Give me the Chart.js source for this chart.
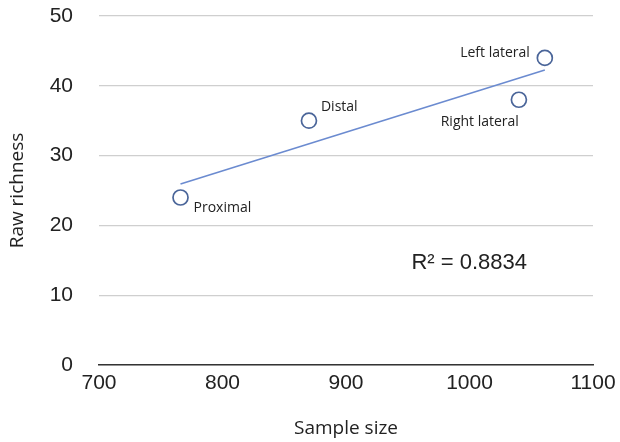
<!DOCTYPE html>
<html>
<head>
<meta charset="utf-8">
<script src="https://cdn.jsdelivr.net/npm/chart.js@4"></script>
<style>
  html, body { margin: 0; padding: 0; background: #fff; }
  #wrap { width: 620px; height: 442px; }
</style>
</head>
<body>
<div id="wrap"><canvas id="richnessChart" width="620" height="442"></canvas></div>
<script>
// data
const sites = ['Proximal', 'Distal', 'Left lateral', 'Right lateral'];
const sampleSize = [766, 870, 1061, 1040];
const rawRichness = [24, 35, 44, 38];
const xTicks = [700, 800, 900, 1000, 1100];
const yTicks = [0, 10, 20, 30, 40, 50];
const rSquaredText = 'R² = 0.8834';

// least-squares trendline through the points
function linearFit(xs, ys) {
  const n = xs.length;
  const mx = xs.reduce((a, b) => a + b, 0) / n;
  const my = ys.reduce((a, b) => a + b, 0) / n;
  let sxy = 0, sxx = 0;
  for (let i = 0; i < n; i++) {
    sxy += (xs[i] - mx) * (ys[i] - my);
    sxx += (xs[i] - mx) * (xs[i] - mx);
  }
  const slope = sxy / sxx;
  return x => my + slope * (x - mx);
}
const fit = linearFit(sampleSize, rawRichness);
const xMin = Math.min(...sampleSize);
const xMax = Math.max(...sampleSize);

// label offsets from each point (px)
const labelPos = [
  { dx: 13, dy: 11, align: 'left' },
  { dx: 12, dy: -14, align: 'left' },
  { dx: -15, dy: -5, align: 'right' },
  { dx: 0, dy: 22, align: 'right' }
];

const pointLabels = {
  id: 'pointLabels',
  afterDatasetsDraw(chart) {
    const ctx = chart.ctx;
    const meta = chart.getDatasetMeta(1);
    ctx.save();
    ctx.font = '14px "Open Sans", sans-serif';
    ctx.fillStyle = '#222';
    ctx.textBaseline = 'middle';
    meta.data.forEach((pt, i) => {
      const p = labelPos[i];
      ctx.textAlign = p.align;
      ctx.fillText(sites[i], pt.x + p.dx, pt.y + p.dy);
    });
    // R squared annotation
    const xs = chart.scales.x, ys = chart.scales.y;
    ctx.font = '22px "Liberation Sans", Arial, sans-serif';
    ctx.textAlign = 'left';
    ctx.fillText(rSquaredText, xs.getPixelForValue(953), ys.getPixelForValue(14.6));
    ctx.restore();
  }
};

const ctx = document.getElementById('richnessChart').getContext('2d');
new Chart(ctx, {
  type: 'scatter',
  data: {
    datasets: [
      {
        type: 'line',
        label: 'Trend',
        data: [{ x: xMin, y: fit(xMin) }, { x: xMax, y: fit(xMax) }],
        borderColor: '#6b8bd0',
        borderWidth: 1.6,
        pointRadius: 0,
        fill: false
      },
      {
        label: 'Raw richness',
        data: sampleSize.map((x, i) => ({ x: x, y: rawRichness[i] })),
        backgroundColor: 'rgba(255,255,255,0)',
        borderColor: '#4a6599',
        borderWidth: 1.7,
        pointRadius: 7.5,
        pointHoverRadius: 7.5
      }
    ]
  },
  options: {
    responsive: false,
    animation: false,
    layout: { padding: { top: 16, right: 27, left: 0, bottom: 0 } },
    plugins: {
      legend: { display: false },
      tooltip: { enabled: false }
    },
    scales: {
      x: {
        type: 'linear',
        min: 700,
        max: 1100,
        afterBuildTicks: axis => { axis.ticks = xTicks.map(v => ({ value: v })); },
        afterFit: axis => {
          axis.height = 77;
          axis.paddingLeft = 0;
          axis.paddingRight = 0;
        },
        grid: { display: false, drawTicks: false },
        border: { display: true, color: '#333', width: 1.4 },
        ticks: {
          padding: 6,
          color: '#222',
          callback: v => String(v),
          font: { family: '"Liberation Sans", Arial, sans-serif', size: 21 }
        },
        title: {
          display: true,
          text: 'Sample size',
          color: '#222',
          padding: { top: 0, bottom: 2 },
          font: { family: '"Open Sans", sans-serif', size: 19 }
        }
      },
      y: {
        min: 0,
        max: 50,
        afterBuildTicks: axis => { axis.ticks = yTicks.map(v => ({ value: v })); },
        afterFit: axis => {
          axis.width = 99;
          axis.paddingTop = 0;
          axis.paddingBottom = 0;
        },
        grid: { color: '#cfcfcf', lineWidth: 1.2, drawTicks: false },
        border: { display: false },
        ticks: {
          padding: 26,
          color: '#222',
          callback: v => String(v),
          font: { family: '"Liberation Sans", Arial, sans-serif', size: 21 }
        },
        title: {
          display: true,
          text: 'Raw richness',
          color: '#222',
          padding: { top: 6, bottom: 0 },
          font: { family: '"Open Sans", sans-serif', size: 19 }
        }
      }
    }
  },
  plugins: [pointLabels]
});
</script>
</body>
</html>
